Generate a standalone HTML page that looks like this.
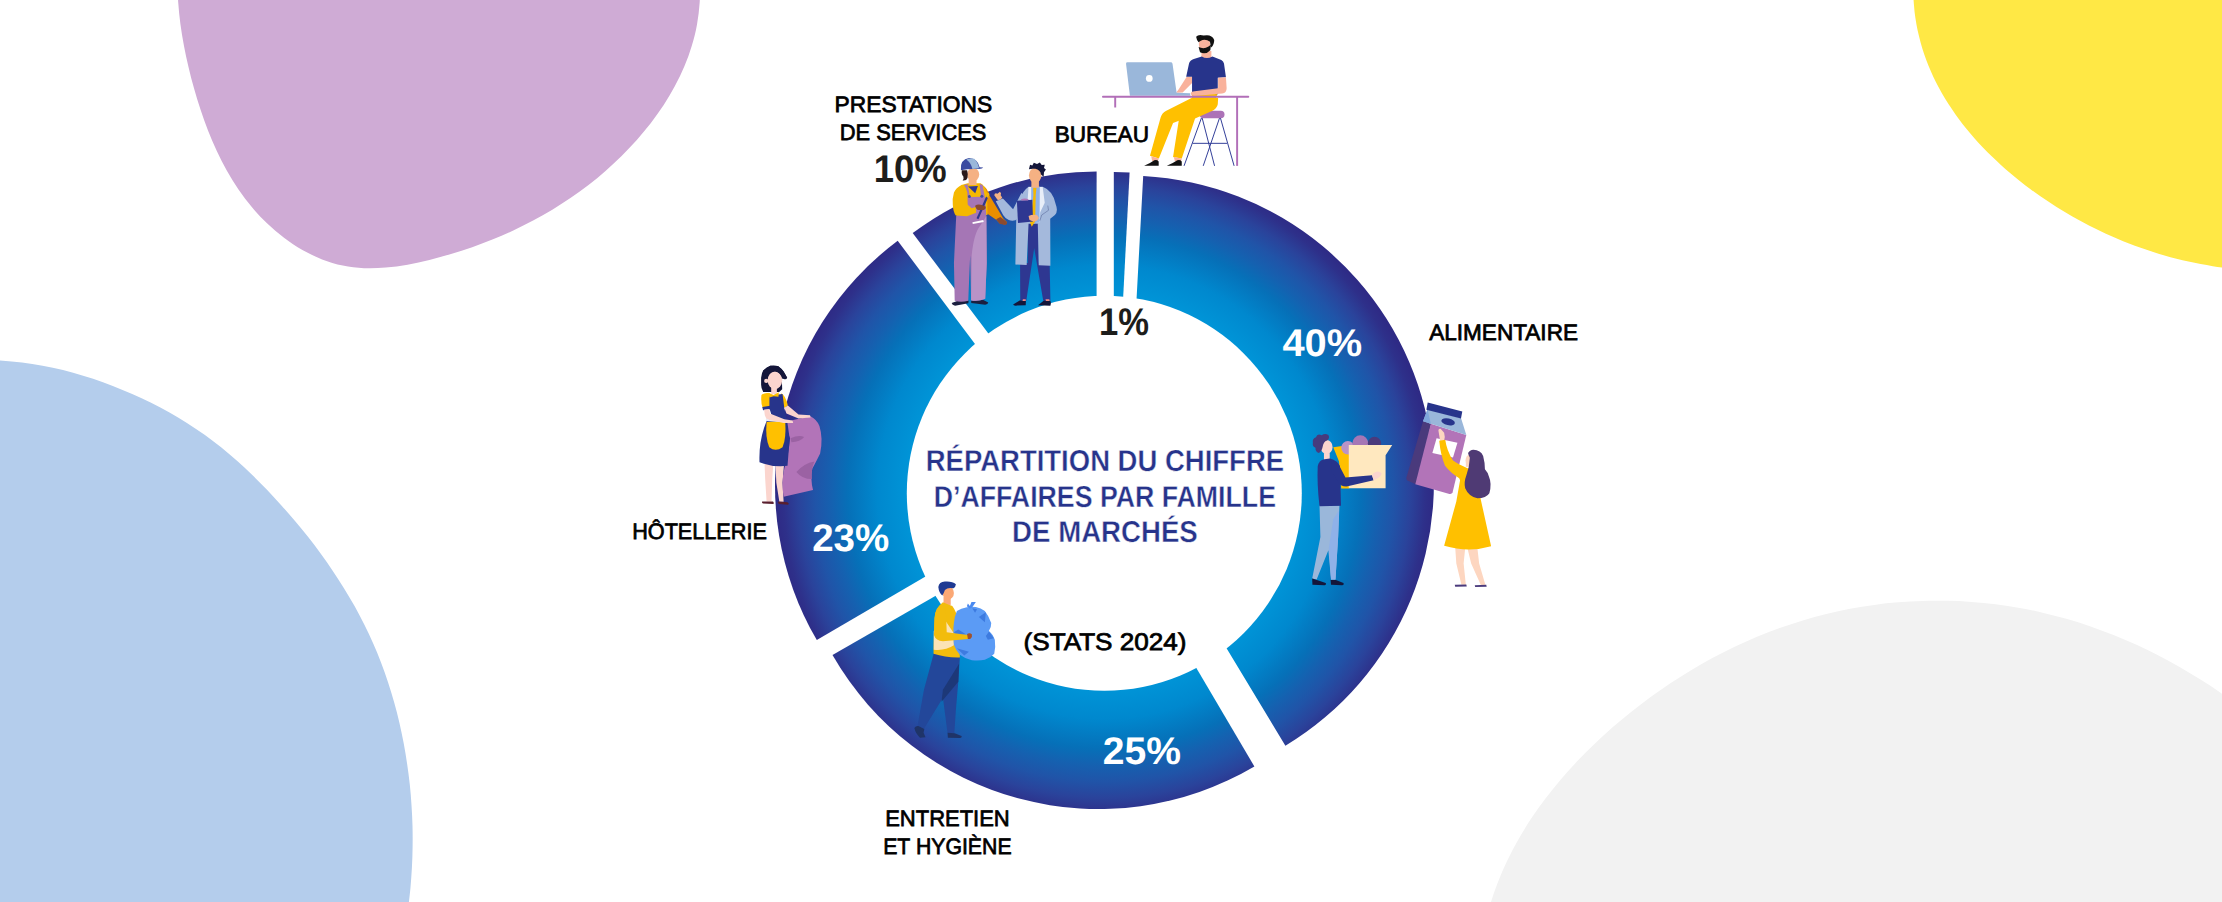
<!DOCTYPE html>
<html lang="fr"><head><meta charset="utf-8"><title>Répartition du chiffre d'affaires</title>
<style>
html,body{margin:0;padding:0;background:#fff;}
body{width:2222px;height:902px;overflow:hidden;position:relative;font-family:"Liberation Sans",sans-serif;}
svg{position:absolute;left:0;top:0;display:block;}
text{font-family:"Liberation Sans",sans-serif;text-rendering:geometricPrecision;}
</style></head><body>
<svg width="2222" height="902" viewBox="0 0 2222 902">
<defs>
<radialGradient id="gpie" gradientUnits="userSpaceOnUse" cx="1104.4" cy="492" r="329"><stop offset="0.60" stop-color="#0094D7"/><stop offset="0.69" stop-color="#0088CE"/><stop offset="0.78" stop-color="#0670B8"/><stop offset="0.83" stop-color="#1561B0"/><stop offset="0.88" stop-color="#2054A8"/><stop offset="0.93" stop-color="#2A439B"/><stop offset="0.975" stop-color="#2E308A"/><stop offset="1" stop-color="#2E2A85"/></radialGradient>
</defs>
<rect width="2222" height="902" fill="#fff"/>
<path d="M177.4 -20.0 C177.6 -16.3 177.7 -5.1 178.2 2.2 C178.7 9.5 179.5 16.8 180.4 24.0 C181.4 31.3 182.5 38.4 183.9 45.6 C185.2 52.8 186.8 59.9 188.5 67.0 C190.1 74.1 192.0 81.2 194.0 88.3 C196.0 95.4 198.2 102.5 200.5 109.5 C202.8 116.5 205.3 123.5 208.0 130.4 C210.7 137.4 213.6 144.2 216.8 150.9 C219.9 157.6 223.3 164.2 226.9 170.7 C230.5 177.1 234.4 183.4 238.5 189.5 C242.7 195.6 247.1 201.5 251.8 207.1 C256.6 212.8 261.7 218.2 267.0 223.3 C272.4 228.4 278.1 233.3 284.0 237.8 C289.9 242.2 296.1 246.4 302.4 250.0 C308.8 253.6 315.4 256.8 322.1 259.4 C328.8 262.0 335.8 264.1 342.8 265.6 C349.7 267.0 356.9 267.8 364.0 268.2 C371.2 268.5 378.5 268.2 385.7 267.6 C393.0 267.0 400.3 265.9 407.6 264.7 C414.9 263.4 422.2 261.7 429.4 259.9 C436.7 258.2 443.9 256.2 451.0 254.1 C458.1 252.0 465.2 249.7 472.2 247.2 C479.2 244.8 486.2 242.1 493.0 239.3 C499.9 236.6 506.7 233.6 513.3 230.5 C520.0 227.3 526.6 224.1 533.1 220.6 C539.6 217.1 546.0 213.5 552.3 209.7 C558.6 205.9 564.7 201.9 570.8 197.8 C576.8 193.7 582.7 189.4 588.5 184.9 C594.3 180.4 600.0 175.8 605.5 170.9 C611.0 166.1 616.4 161.1 621.6 156.0 C626.8 150.8 631.9 145.5 636.8 140.0 C641.6 134.5 646.4 128.8 650.9 123.0 C655.3 117.1 659.7 111.1 663.7 105.0 C667.7 98.8 671.5 92.5 674.9 86.1 C678.4 79.7 681.6 73.1 684.4 66.3 C687.2 59.6 689.7 52.7 691.8 45.7 C694.0 38.8 695.7 31.6 697.0 24.4 C698.3 17.1 699.2 9.8 699.7 2.3 C700.1 -5.2 699.6 -16.7 699.5 -20.5 Z" fill="#CFABD5"/>
<path d="M-29.9 360.2 C-26.4 360.1 -16.0 359.9 -9.1 360.1 C-2.2 360.3 4.7 360.7 11.6 361.4 C18.5 362.0 25.4 362.9 32.3 363.9 C39.1 365.0 46.0 366.3 52.8 367.8 C59.6 369.2 66.4 370.9 73.1 372.7 C79.8 374.6 86.5 376.6 93.1 378.8 C99.7 381.0 106.3 383.4 112.8 385.9 C119.3 388.4 125.8 391.1 132.2 393.9 C138.5 396.7 144.8 399.6 151.1 402.8 C157.3 405.9 163.4 409.1 169.5 412.5 C175.5 415.9 181.5 419.5 187.3 423.2 C193.2 426.9 198.9 430.8 204.6 434.8 C210.2 438.8 215.7 443.0 221.1 447.3 C226.5 451.7 231.8 456.2 237.0 460.8 C242.2 465.4 247.3 470.1 252.3 475.0 C257.2 479.8 262.1 484.8 267.0 489.8 C271.8 494.9 276.5 500.0 281.2 505.2 C285.9 510.3 290.5 515.6 295.0 520.9 C299.5 526.3 303.9 531.7 308.2 537.1 C312.5 542.6 316.7 548.2 320.8 553.8 C324.9 559.4 329.0 565.1 332.8 570.9 C336.7 576.6 340.5 582.5 344.1 588.4 C347.8 594.3 351.3 600.3 354.7 606.3 C358.0 612.4 361.3 618.5 364.4 624.7 C367.5 630.9 370.4 637.2 373.2 643.6 C376.0 649.9 378.7 656.3 381.1 662.8 C383.6 669.3 385.9 675.9 388.1 682.5 C390.3 689.1 392.3 695.8 394.2 702.5 C396.1 709.2 397.8 716.0 399.4 722.7 C400.9 729.5 402.4 736.3 403.7 743.2 C405.0 750.0 406.1 756.9 407.1 763.8 C408.1 770.6 409.0 777.6 409.8 784.5 C410.5 791.4 411.1 798.3 411.5 805.2 C412.0 812.2 412.3 819.1 412.5 826.1 C412.7 833.0 412.7 840.0 412.6 846.9 C412.5 853.9 412.3 860.8 411.9 867.8 C411.5 874.7 411.0 881.7 410.4 888.6 C409.7 895.5 408.9 902.4 408.0 909.3 C407.1 916.2 405.4 926.6 404.9 930.0 L-30 930 Z" fill="#B4CDEC"/>
<path d="M1913.4 -20.5 C1913.4 -18.4 1913.2 -11.8 1913.3 -7.4 C1913.4 -3.1 1913.6 1.2 1914.0 5.4 C1914.3 9.7 1914.8 13.9 1915.4 18.0 C1916.0 22.2 1916.8 26.3 1917.6 30.3 C1918.5 34.4 1919.5 38.4 1920.6 42.4 C1921.7 46.3 1922.9 50.3 1924.2 54.2 C1925.5 58.0 1927.0 61.9 1928.5 65.7 C1930.0 69.4 1931.7 73.2 1933.4 76.9 C1935.2 80.6 1937.0 84.2 1938.9 87.8 C1940.9 91.4 1942.9 95.0 1945.0 98.5 C1947.2 102.0 1949.4 105.4 1951.7 108.8 C1954.0 112.3 1956.3 115.6 1958.8 118.9 C1961.2 122.2 1963.8 125.5 1966.4 128.7 C1969.0 131.9 1971.7 135.1 1974.4 138.2 C1977.2 141.3 1980.0 144.4 1982.9 147.4 C1985.8 150.4 1988.7 153.4 1991.7 156.3 C1994.7 159.2 1997.8 162.1 2000.9 164.9 C2004.0 167.7 2007.2 170.5 2010.4 173.2 C2013.6 175.9 2016.8 178.6 2020.1 181.2 C2023.4 183.8 2026.8 186.4 2030.2 188.9 C2033.5 191.4 2037.0 193.9 2040.4 196.3 C2043.9 198.7 2047.4 201.0 2050.9 203.3 C2054.4 205.6 2057.9 207.9 2061.5 210.1 C2065.1 212.3 2068.7 214.4 2072.4 216.5 C2076.0 218.6 2079.7 220.6 2083.4 222.6 C2087.1 224.5 2090.8 226.5 2094.6 228.3 C2098.3 230.2 2102.1 232.0 2105.9 233.7 C2109.7 235.5 2113.6 237.1 2117.4 238.8 C2121.2 240.4 2125.1 242.0 2129.0 243.5 C2132.9 245.0 2136.8 246.4 2140.7 247.8 C2144.6 249.2 2148.6 250.5 2152.5 251.8 C2156.5 253.1 2160.5 254.3 2164.5 255.4 C2168.4 256.6 2172.5 257.7 2176.5 258.7 C2180.5 259.7 2184.5 260.7 2188.5 261.6 C2192.6 262.5 2196.6 263.3 2200.6 264.1 C2204.7 264.8 2208.8 265.5 2212.8 266.2 C2216.9 266.8 2220.9 267.4 2225.0 267.9 C2229.1 268.4 2233.2 268.8 2237.2 269.2 C2241.3 269.6 2247.4 270.0 2249.5 270.1 L2250 -20 Z" fill="#FFE845"/>
<path d="M1483.9 929.7 C1484.9 925.7 1487.5 913.7 1489.8 905.8 C1492.1 898.0 1494.8 890.3 1497.7 882.8 C1500.6 875.3 1503.8 867.8 1507.3 860.6 C1510.8 853.3 1514.5 846.2 1518.5 839.2 C1522.5 832.2 1526.8 825.3 1531.2 818.6 C1535.7 811.8 1540.4 805.2 1545.3 798.8 C1550.2 792.3 1555.3 786.0 1560.6 779.8 C1565.9 773.6 1571.3 767.6 1576.9 761.6 C1582.5 755.7 1588.3 749.9 1594.2 744.2 C1600.1 738.6 1606.2 733.0 1612.3 727.6 C1618.5 722.2 1624.7 717.0 1631.1 711.9 C1637.5 706.7 1644.0 701.8 1650.6 696.9 C1657.2 692.1 1664.0 687.5 1670.8 682.9 C1677.6 678.4 1684.5 674.1 1691.5 669.9 C1698.5 665.7 1705.6 661.7 1712.8 657.8 C1720.0 654.0 1727.3 650.3 1734.7 646.8 C1742.0 643.3 1749.4 640.0 1757.0 636.8 C1764.5 633.7 1772.0 630.8 1779.7 628.0 C1787.3 625.3 1795.0 622.7 1802.8 620.4 C1810.6 618.0 1818.4 615.9 1826.3 614.0 C1834.2 612.0 1842.1 610.3 1850.1 608.8 C1858.0 607.3 1866.1 606.0 1874.1 604.9 C1882.1 603.8 1890.2 602.9 1898.3 602.3 C1906.4 601.6 1914.5 601.1 1922.6 600.9 C1930.7 600.6 1938.9 600.6 1947.0 600.8 C1955.1 600.9 1963.3 601.3 1971.4 601.9 C1979.5 602.5 1987.6 603.3 1995.6 604.3 C2003.7 605.3 2011.7 606.5 2019.7 608.0 C2027.7 609.4 2035.7 611.0 2043.6 612.9 C2051.6 614.7 2059.5 616.8 2067.3 619.1 C2075.1 621.3 2082.9 623.8 2090.6 626.4 C2098.3 629.1 2105.9 631.9 2113.5 634.9 C2121.1 638.0 2128.6 641.2 2136.0 644.6 C2143.4 647.9 2150.8 651.5 2158.0 655.2 C2165.3 658.9 2172.5 662.8 2179.6 666.9 C2186.6 670.9 2193.6 675.1 2200.5 679.5 C2207.4 683.8 2214.2 688.3 2220.9 693.0 C2227.6 697.6 2234.2 702.4 2240.6 707.3 C2247.1 712.2 2256.5 719.9 2259.7 722.4 L2260 930 Z" fill="#F2F2F2"/>
<g id="pie">
<path d="M1126.6 482.8 L1143.2 176.0 A307.2 307.2 0 0 1 1285.4 745.8 Z" fill="url(#gpie)"/>
<path d="M1098.6 502.1 L1254.4 766.5 A306.9 306.9 0 0 1 832.5 655.1 Z" fill="url(#gpie)"/>
<path d="M1081.0 485.7 L816.8 640.1 A306.0 306.0 0 0 1 897.7 240.7 Z" fill="url(#gpie)"/>
<path d="M1096.6 477.2 L912.7 233.1 A305.6 305.6 0 0 1 1096.6 171.6 Z" fill="url(#gpie)"/>
<path d="M1113.8 479.0 L1113.8 172.0 A307.0 307.0 0 0 1 1129.6 172.4 Z" fill="url(#gpie)"/>
<circle cx="1104.3" cy="493.3" r="197.5" fill="#fff"/>
</g>
<g id="bureau" transform="translate(1090,20) scale(0.17746)">
<g stroke="#2E3B96" stroke-width="5.5" fill="none">
<line x1="628" y1="552" x2="530" y2="822"/>
<line x1="632" y1="552" x2="702" y2="822"/>
<line x1="735" y1="552" x2="812" y2="822"/>
<line x1="730" y1="552" x2="638" y2="822"/>
<line x1="578" y1="695" x2="772" y2="695"/>
</g>
<rect x="618" y="511" width="140" height="43" rx="21" fill="#AC72B7"/>
<line x1="829" y1="432" x2="829" y2="822" stroke="#B26FB8" stroke-width="11"/>
<path d="M722 440 L720 475 Q715 500 690 512 L592 555 L517 780 L468 772 L505 535 Q510 515 530 505 L700 440 Z" fill="#FFC000"/>
<path d="M720 412 L575 412 L575 438 L430 512 Q405 525 398 550 L338 765 L388 780 L468 580 L560 545 L700 470 Z" fill="#FFC000"/>
<path d="M345 768 L388 780 L380 800 L350 795 Z" fill="#F9B29C"/>
<path d="M472 772 L517 780 L512 800 L478 795 Z" fill="#F9B29C"/>
<path d="M305 822 L387 822 L387 797 Q377 786 362 791 L338 806 Z" fill="#111"/>
<path d="M433 822 L517 822 L517 797 Q507 786 492 791 L466 806 Z" fill="#111"/>
<path d="M545 320 L578 320 L578 352 L522 408 L485 410 L500 390 Z" fill="#F9B29C"/>
<path d="M203 246 Q203 238 211 238 L455 238 Q463 238 465 246 L488 410 L565 413 L565 427 L225 427 Z" fill="#9AB7DA"/>
<circle cx="334" cy="329" r="19" fill="#fff"/>
<rect x="628" y="175" width="56" height="45" fill="#F9B29C"/>
<path d="M575 408 L575 320 L542 320 L558 245 Q563 226 585 220 L630 205 Q658 222 690 205 L740 225 Q752 232 755 245 L766 322 L720 326 L720 418 Z" fill="#27348B"/>
<path d="M722 326 L766 322 L770 385 Q770 412 745 414 L590 428 Q568 428 568 414 Q570 402 590 402 L722 385 Z" fill="#F9B29C"/>
<ellipse cx="645" cy="135" rx="32" ry="40" fill="#F9B29C"/>
<path d="M598 95 Q610 80 640 88 Q685 78 700 112 Q700 140 682 155 L676 122 Q650 104 622 118 L612 126 Q600 112 598 95 Z" fill="#111"/>
<path d="M612 152 Q640 166 668 150 L682 138 L678 170 Q652 198 620 182 Z" fill="#111"/>
<line x1="73" y1="433" x2="892" y2="433" stroke="#B26FB8" stroke-width="11" stroke-linecap="round"/>
<line x1="142" y1="433" x2="142" y2="493" stroke="#B26FB8" stroke-width="11"/>
</g>
<g id="presta" transform="translate(940,150) scale(0.18841)">
<!-- worker -->
<path d="M62 812 Q64 824 80 826 L150 814 L152 800 L95 800 Z" fill="#1B1F3F"/>
<path d="M165 800 L166 812 L240 822 Q255 820 256 810 L230 796 Z" fill="#1B1F3F"/>
<path d="M228 190 Q250 200 262 240 L335 362 L352 380 Q360 392 345 396 L318 390 L300 372 L240 330 Z" fill="#E98E00"/>
<path d="M298 368 L320 356 L352 380 Q362 394 345 398 L316 391 Z" fill="#8B4A2F"/>
<path d="M118 184 L148 176 L215 176 Q240 190 250 230 L252 345 L88 352 Z" fill="#F5B800"/>
<path d="M128 186 L146 182 L160 250 L218 248 L210 180 L226 186 L240 262 L246 350 L248 600 L240 790 Q200 806 165 798 L160 560 L150 800 Q110 812 78 800 L74 600 L86 350 L146 300 Z" fill="#A576B5"/>
<path d="M246 350 L248 600 L240 790 Q200 806 165 798 L168 560 Q180 440 215 400 Z" fill="#B993C7"/>
<path d="M149 194 L201 191 L187 229 Z" fill="#2E3791"/>
<circle cx="156" cy="247" r="8" fill="#3B4BA0"/><circle cx="222" cy="245" r="8" fill="#3B4BA0"/>
<path d="M172 383 L230 372 L232 382 L174 393 Z" fill="#fff"/>
<path d="M194 362 L240 258 L250 238 L258 244 L250 264 L204 368 Z" fill="#2E3791"/>
<path d="M244 246 L252 226 Q262 224 262 236 L256 256 Z" fill="#F5B800"/>
<path d="M116 184 Q84 200 74 226 Q64 260 68 292 Q70 330 84 348 L144 351 L192 333 L190 302 L168 309 L147 290 L145 226 Q140 200 128 188 Z" fill="#F5B800"/>
<path d="M186 296 Q200 286 222 292 L242 300 Q246 312 232 318 L200 318 Q188 310 186 296 Z" fill="#8B4A2F"/>
<rect x="152" y="150" width="42" height="36" fill="#F5B183"/>
<ellipse cx="176" cy="130" rx="32" ry="36" fill="#F5B183"/>
<path d="M116 108 Q112 130 124 140 Q128 155 120 162 Q140 165 146 148 Q150 130 144 108 Z" fill="#2A1A1A"/>
<path d="M111 104 Q106 52 154 43 Q200 44 210 92 L229 93 Q226 100 205 101 Q150 98 111 108 Z" fill="#3B4BA0"/>
<path d="M140 50 Q160 42 182 46 Q202 66 207 97 L172 101 Q166 70 140 50 Z" fill="#9AB7DA"/>
<!-- doctor -->
<path d="M388 820 Q390 826 400 826 L455 824 L456 800 L425 798 Z" fill="#14163A"/>
<path d="M520 824 L586 826 Q592 812 586 800 L555 796 Z" fill="#14163A"/>
<path d="M425 600 L466 600 L466 385 L524 385 L524 600 L582 605 L586 798 L548 800 L500 520 L458 800 L426 798 Z" fill="#2E3791"/>
<path d="M440 792 L455 792 L455 802 L438 802 Z M560 792 L580 792 L582 802 L562 802 Z" fill="#F28B82"/>
<path d="M296 272 L334 258 L388 314 L432 228 L472 262 L425 352 Q400 386 365 372 Q345 362 335 345 Z" fill="#A4B9DC"/>
<path d="M288 240 Q290 225 305 232 L318 222 Q328 230 322 240 L330 252 Q325 268 305 264 Z" fill="#F5B183"/>
<path d="M470 195 L545 195 Q600 215 615 290 Q628 325 610 345 L585 365 L586 615 L524 612 L519 392 L470 392 L460 610 L400 608 L404 400 Q405 240 470 195 Z" fill="#A4B9DC"/>
<path d="M470 197 L545 197 L556 280 L532 330 L528 385 L484 390 L480 330 L464 280 Z" fill="#E8EEF8"/><path d="M484 195 L530 195 L528 385 L484 390 Z" fill="#8FB1E8"/>
<path d="M494 200 L512 200 L508 240 L505 380 L487 408 L478 385 L496 240 Z" fill="#F5B800"/>
<path d="M540 345 L576 320 L572 295 M540 345 L530 375" stroke="#5A6A9A" stroke-width="3" fill="none"/>
<path d="M408 270 L490 264 L494 380 L414 388 Z" fill="#2E3791"/>
<path d="M430 262 Q450 252 470 262 L468 268 L432 268 Z" fill="#B274B8"/>
<path d="M470 350 Q490 340 515 345 L525 360 Q520 378 495 380 L475 372 Z" fill="#F5B183"/>
<rect x="485" y="160" width="40" height="40" fill="#F5B183"/>
<ellipse cx="505" cy="135" rx="33" ry="40" fill="#F5B183"/>
<path d="M472 102 L478 78 L490 82 L498 68 L515 74 L530 66 L540 80 L556 78 L552 96 L562 104 L552 118 L550 142 L536 130 Q532 106 506 100 Q486 98 472 102 Z" fill="#14163A"/>
</g>
<g id="maid" transform="translate(740,355) scale(0.1773)">
<path d="M138 600 L188 610 L182 700 L178 826 L150 826 L142 700 Z" fill="#FBD5CE"/>
<path d="M200 615 L248 620 L240 720 L246 828 L222 828 L205 720 Z" fill="#FBD5CE"/>
<path d="M125 826 L186 826 Q194 834 188 840 L130 838 Q122 834 125 826 Z" fill="#5A1F2E"/>
<path d="M215 826 L268 830 Q280 838 272 844 L220 840 Q210 834 215 826 Z" fill="#5A1F2E"/>
<path d="M250 388 L300 366 L398 345 Q435 365 448 400 Q470 470 452 555 Q425 610 408 640 Q396 700 412 762 L246 800 Q232 720 250 640 Q275 560 282 470 Z" fill="#B274B8"/>
<path d="M285 470 Q330 450 362 462 Q340 490 290 492 Z" fill="#9B62A3"/>
<path d="M318 660 Q360 610 420 600 Q400 640 405 700 Q350 700 318 660 Z" fill="#9B62A3"/>
<path d="M119 128 Q122 100 131 88 Q150 66 171 61 Q195 56 216 63 Q235 75 246 93 L266 128 Q262 140 248 136 L236 131 L238 193 L221 208 L131 208 Q119 190 119 168 Z" fill="#14163A"/>
<rect x="176" y="180" width="32" height="40" fill="#FBD5CE"/>
<ellipse cx="197" cy="143" rx="41" ry="50" fill="#FBD5CE"/>
<circle cx="148" cy="146" r="12" fill="#FBD5CE"/>
<path d="M156 112 Q170 90 200 92 Q225 97 240 132 L266 128 L246 93 L216 63 L171 61 L131 88 L140 130 Z" fill="#14163A"/>
<path d="M121 225 Q140 210 168 216 L170 293 L128 300 Q116 265 121 225 Z" fill="#FFC000"/>
<path d="M232 216 Q256 226 270 285 L246 300 L232 280 Z" fill="#FFC000"/>
<path d="M126 293 L170 286 L172 306 L130 312 Z" fill="#27348B"/>
<path d="M136 308 L166 304 L170 340 L178 356 L150 362 L140 340 Z" fill="#FBD5CE"/>
<path d="M166 228 L240 220 L250 300 L266 372 L280 470 L268 625 Q190 635 110 605 Q105 480 150 372 L182 352 L166 300 Z" fill="#27348B"/>
<path d="M150 378 L255 372 Q262 470 240 520 Q200 550 165 520 Q142 470 150 378 Z" fill="#FFC000"/>
<path d="M146 360 L222 366 L222 378 L146 372 Z" fill="#E9ECF5"/>
<path d="M159 213 L190 226 L219 210 L217 236 L190 232 L166 240 Z" fill="#FFC000"/>
<path d="M250 298 L270 285 L330 335 L395 340 L398 352 L330 358 L262 330 Z" fill="#FBD5CE"/>
<path d="M150 340 L172 332 L250 362 L296 370 L300 384 L245 384 L160 364 Z" fill="#FBD5CE"/>
</g>
<g id="cleaner" transform="translate(900,570) scale(0.19964)">
<path d="M170 415 L300 435 L292 560 L280 700 L272 818 L238 815 L215 640 L120 795 L88 780 L120 600 Z" fill="#23479A"/>
<path d="M296 470 L292 560 L208 660 L215 600 Z" fill="#1D3878"/>
<path d="M72 792 Q80 780 92 782 L122 796 L118 815 L128 838 L100 840 Q78 820 72 792 Z" fill="#1F3468"/>
<path d="M238 815 L274 818 L308 832 Q312 840 300 842 L240 840 Z" fill="#1F3468"/>
<rect x="218" y="135" width="36" height="40" fill="#FBA875"/>
<path d="M168 400 L172 240 Q178 190 215 162 Q240 172 262 180 Q285 210 292 260 L300 438 Q230 440 168 420 Z" fill="#F2BC0C"/>
<path d="M231 259 L269 315 L270 377 Q225 406 169 399 L169 305 Z" fill="#FBE3B5"/>
<path d="M285 205 Q272 235 270 265 Q266 290 268 315 Q266 345 270 375 Q280 405 300 425 Q325 445 360 452 Q395 456 425 450 Q455 440 472 420 Q480 385 475 350 Q465 320 445 305 Q458 285 457 265 Q445 230 425 205 Q405 190 380 185 Q355 182 335 187 Q305 192 285 205 Z" fill="#5B9BF5"/>
<path d="M335 182 L340 168 L350 180 L358 160 L380 160 L362 186 L350 194 Z" fill="#4A8AF0"/>
<path d="M395 235 L430 212 L425 262 Z" fill="#3D7BE0"/>
<path d="M270 312 L292 298 L330 322 L285 328 Z" fill="#3D7BE0"/>
<path d="M430 330 L446 308 L470 342 L440 350 Z" fill="#3D7BE0"/>
<path d="M285 392 L345 410 L322 428 Z" fill="#3D7BE0"/>
<path d="M362 192 L386 196 L376 214 Z" fill="#3D7BE0"/>
<path d="M175 235 Q175 190 208 170 Q232 175 232 259 L234 312 L340 325 L342 346 L215 357 Q180 355 170 325 Z" fill="#F2BC0C"/>
<path d="M336 320 Q350 312 360 322 Q364 336 352 346 L340 346 Z" fill="#A0522D"/>
<ellipse cx="242" cy="115" rx="28" ry="33" fill="#FBA875"/>
<path d="M192 85 Q195 60 225 58 Q262 55 280 72 Q278 88 268 92 Q240 85 225 100 Q220 115 212 128 Q195 115 192 85 Z" fill="#1F3A93"/>
</g>
<g id="alim" transform="translate(1300,395) scale(0.22173)">
<!-- man with box -->
<path d="M88 498 L178 498 L172 640 L160 832 L140 832 L128 700 L75 832 L55 828 L92 640 Z" fill="#9AB7DA"/>
<path d="M150 560 L176 520 L172 640 L160 832 L140 832 L130 690 Z" fill="#8FB1E8"/>
<path d="M55 828 L76 834 L116 848 Q120 856 110 858 L56 856 Z" fill="#14163A"/>
<path d="M138 834 L162 834 L196 848 Q200 856 190 858 L140 856 Z" fill="#14163A"/>
<path d="M150 236 L222 226 L222 422 L186 422 L176 300 Z" fill="#FFC000"/>
<circle cx="216" cy="238" r="30" fill="#B993C7"/>
<circle cx="272" cy="218" r="36" fill="#A576B5"/>
<circle cx="336" cy="218" r="30" fill="#4A3A7C"/>
<path d="M220 226 L416 226 L386 272 L386 420 L220 420 Z" fill="#FFE8BF"/>
<rect x="108" y="262" width="26" height="34" fill="#FBD5CE"/>
<ellipse cx="120" cy="235" rx="27" ry="32" fill="#FBD5CE"/>
<path d="M58 215 Q55 195 72 190 Q78 172 98 182 Q112 170 128 180 Q136 195 122 205 Q105 210 102 235 Q98 255 85 262 Q68 255 70 238 Q55 232 58 215 Z" fill="#463B7E"/>
<path d="M80 320 Q85 295 110 290 L135 286 Q170 295 180 320 L185 500 L88 502 Q76 400 80 320 Z" fill="#27348B"/>
<path d="M140 300 Q165 295 178 320 L205 372 L325 362 L332 385 L215 412 Q185 415 172 392 L140 340 Z" fill="#27348B"/>
<path d="M325 362 Q335 345 352 345 L368 352 Q366 368 350 375 L332 385 Z" fill="#FBD5CE"/>
<!-- carton -->
<path d="M555 118 L592 130 L522 402 L484 386 Q478 380 480 372 Z" fill="#4A3A7C"/>
<path d="M590 130 L750 180 L688 440 Q684 448 674 446 L520 402 Z" fill="#B274B8"/>
<path d="M575 64 L726 104 L750 180 L590 130 L555 118 Z" fill="#9AB7DA"/>
<path d="M575 64 L590 130 L555 118 Z" fill="#7FA6DC"/>
<path d="M576 34 L732 74 L726 106 L570 66 Z" fill="#27348B"/>
<ellipse cx="668" cy="121" rx="31" ry="15" transform="rotate(12 668 121)" fill="#27348B"/>
<path d="M616 195 L710 215 L690 282 L597 262 Z" fill="#fff"/>
<!-- woman -->
<path d="M700 688 L745 690 L738 760 L748 856 L728 856 L705 760 Z" fill="#FDD6C0"/>
<path d="M755 690 L800 690 L808 760 L836 856 L816 858 L772 760 Z" fill="#FDD6C0"/>
<path d="M698 856 L750 855 L752 864 L700 865 Z" fill="#4A3A7C"/>
<path d="M788 858 L840 856 L842 865 L790 866 Z" fill="#4A3A7C"/>
<path d="M625 165 Q622 150 634 152 L650 170 Q656 190 650 205 L632 208 Z" fill="#FDD6C0"/>
<rect x="748" y="290" width="22" height="34" fill="#FDD6C0"/>
<ellipse cx="763" cy="295" rx="16" ry="25" fill="#FDD6C0"/>
<path d="M628 206 L655 202 Q662 252 690 295 Q715 312 758 331 L775 325 Q810 400 815 470 L862 682 Q760 712 650 680 L705 480 L722 385 L718 375 Q680 352 654 319 Q634 270 628 206 Z" fill="#FFC000"/>
<path d="M782 247 Q815 248 826 275 Q834 305 834 335 Q848 350 852 368 Q866 400 854 443 Q840 466 800 466 Q760 456 745 420 Q738 395 750 363 Q764 325 766 283 Q758 268 758 262 Q765 248 782 247 Z" fill="#4F3A74"/>
</g>

<g id="labels" fill="#000">
<text x="834.6" y="112.1" font-size="22.4" textLength="157.6" lengthAdjust="spacingAndGlyphs" stroke="#000" stroke-width="0.75">PRESTATIONS</text>
<text x="839.8" y="140.4" font-size="22.4" textLength="146.6" lengthAdjust="spacingAndGlyphs" stroke="#000" stroke-width="0.75">DE SERVICES</text>
<text x="873.7" y="181.8" font-size="38.5" font-weight="700" fill="#1D1D1B" textLength="72.9" lengthAdjust="spacingAndGlyphs">10%</text>
<text x="1054.7" y="142.2" font-size="22.4" textLength="94.3" lengthAdjust="spacingAndGlyphs" stroke="#000" stroke-width="0.75">BUREAU</text>
<text x="1099.0" y="334.9" font-size="38.5" font-weight="700" fill="#1D1D1B" textLength="50.0" lengthAdjust="spacingAndGlyphs">1%</text>
<text x="1282.4" y="355.9" font-size="38.5" font-weight="700" fill="#fff" textLength="79.7" lengthAdjust="spacingAndGlyphs">40%</text>
<text x="1429.2" y="339.7" font-size="22.4" textLength="148.8" lengthAdjust="spacingAndGlyphs" stroke="#000" stroke-width="0.75">ALIMENTAIRE</text>
<text x="632.2" y="539.3" font-size="22.4" textLength="134.7" lengthAdjust="spacingAndGlyphs" stroke="#000" stroke-width="0.75">HÔTELLERIE</text>
<text x="812.2" y="551.3" font-size="38.5" font-weight="700" fill="#fff" textLength="77.1" lengthAdjust="spacingAndGlyphs">23%</text>
<text x="1102.7" y="764.1" font-size="38.5" font-weight="700" fill="#fff" textLength="78.2" lengthAdjust="spacingAndGlyphs">25%</text>
<text x="885.2" y="825.9" font-size="22.4" textLength="124.5" lengthAdjust="spacingAndGlyphs" stroke="#000" stroke-width="0.75">ENTRETIEN</text>
<text x="883.2" y="853.8" font-size="22.4" textLength="128.4" lengthAdjust="spacingAndGlyphs" stroke="#000" stroke-width="0.75">ET HYGIÈNE</text>
<text x="1023.6" y="649.9" font-size="24.1" textLength="162.9" lengthAdjust="spacingAndGlyphs" stroke="#000" stroke-width="0.75">(STATS 2024)</text>
<g fill="#27348B" font-weight="700" font-size="30.2" stroke="#fff" stroke-width="0.4">
<text x="925.7" y="470.9" textLength="358.4" lengthAdjust="spacingAndGlyphs">RÉPARTITION DU CHIFFRE</text>
<text x="933.7" y="506.5" textLength="342.3" lengthAdjust="spacingAndGlyphs">D’AFFAIRES PAR FAMILLE</text>
<text x="1012.1" y="542.1" textLength="185.7" lengthAdjust="spacingAndGlyphs">DE MARCHÉS</text>
</g>
</g>

</svg>
</body></html>
